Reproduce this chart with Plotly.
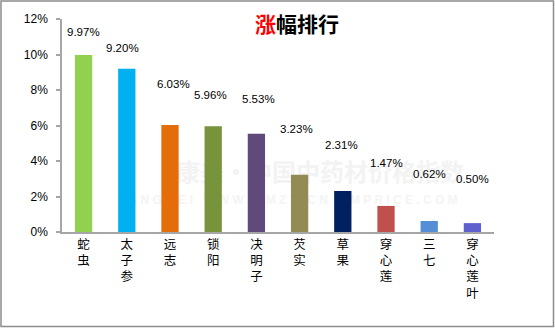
import plotly.graph_objects as go

categories = ["蛇虫", "太子参", "远志", "锁阳", "决明子", "芡实", "草果", "穿心莲", "三七", "穿心莲叶"]
values = [9.97, 9.20, 6.03, 5.96, 5.53, 3.23, 2.31, 1.47, 0.62, 0.50]
labels = ["9.97%", "9.20%", "6.03%", "5.96%", "5.53%", "3.23%", "2.31%", "1.47%", "0.62%", "0.50%"]
colors = ["#92D050", "#00B0F0", "#E46C0A", "#77933C", "#604A7B",
          "#948A54", "#002060", "#C0504D", "#558ED5", "#5F5FD0"]
label_dy = [23, 21, 41, 31, 35, 46, 46, 43, 47, 44]
label_dx = [0, -4, 3, -3, 2, -3, -1, 0, 0, 0]
ytick_vals = [0, 2, 4, 6, 8, 10, 12]
ytick_text = ["0%", "2%", "4%", "6%", "8%", "10%", "12%"]

W, H = 555, 328
ML, MR, MT, MB = 62, 61, 19, 96
PW, PH = W - ML - MR, H - MT - MB

def px_x(p):
    return (p - ML) / PW

def px_y(p):
    return (H - MB - p) / PH

tick_labels = ["<br>".join(list(c)) for c in categories]

fig = go.Figure()
fig.add_trace(go.Bar(
    x=categories, y=values, marker=dict(color=colors, line=dict(width=0)),
    width=0.4, hoverinfo="skip",
))

for c, v, t, dy, dx in zip(categories, values, labels, label_dy, label_dx):
    fig.add_annotation(x=c, y=v, text=t, showarrow=False, yshift=dy, xshift=dx,
                       font=dict(family="Liberation Sans", size=11.5, color="#000000"),
                       yanchor="middle", xanchor="center")

# watermark (behind bars)
fig.add_shape(type="rect", xref="paper", yref="paper",
              x0=px_x(160), x1=px_x(480), y0=px_y(187), y1=px_y(161),
              line=dict(width=0), fillcolor="rgba(0,0,0,0)", layer="below",
              label=dict(text="<b>康美·中国中药材价格指数</b>",
                         font=dict(family="Noto Sans CJK SC", size=24, color="#F3F3F3"),
                         textposition="middle center"))
fig.add_shape(type="rect", xref="paper", yref="paper",
              x0=px_x(95), x1=px_x(480), y0=px_y(206), y1=px_y(192),
              line=dict(width=0), fillcolor="rgba(0,0,0,0)", layer="below",
              label=dict(text="<b>K A N G M E I   W W W . K M Z Y . C N   K M P R I C E . C O M</b>",
                         font=dict(family="Liberation Sans", size=12, color="#F4F4F4"),
                         textposition="middle center"))

# outer border
fig.add_shape(type="rect", xref="paper", yref="paper",
              x0=px_x(1), x1=px_x(553.5), y0=px_y(326.5), y1=px_y(1),
              line=dict(color="#8C8C8C", width=1.5), fillcolor="rgba(0,0,0,0)", layer="above")

fig.update_layout(
    width=W, height=H,
    margin=dict(l=ML, r=MR, t=MT, b=MB),
    paper_bgcolor="white", plot_bgcolor="white",
    showlegend=False,
    title=dict(text="<b><span style='color:#FF0000'>涨</span>幅排行</b>",
               x=297 / W, xanchor="center", xref="container",
               y=1 - 25 / H, yanchor="middle", yref="container",
               font=dict(family="Noto Sans CJK SC", size=21, color="#000000")),
    bargap=0.6,
)
fig.update_xaxes(
    type="category", tickmode="array", tickvals=categories, ticktext=tick_labels,
    tickangle=0, showline=True, linecolor="#A6A6A6", linewidth=1.5,
    ticks="", showgrid=False, zeroline=False,
    tickfont=dict(family="Noto Sans CJK SC", size=12.5, color="#000000"),
    range=[-0.5, 9.5],
)
fig.update_yaxes(
    range=[0, 12], tickmode="array", tickvals=ytick_vals, ticktext=ytick_text,
    showline=True, linecolor="#A6A6A6", linewidth=1.5,
    ticks="outside", ticklen=4, tickcolor="#A6A6A6", tickwidth=1.5,
    showgrid=False, zeroline=False, ticklabelstandoff=6,
    tickfont=dict(family="Liberation Sans", size=12, color="#000000"),
)

fig.write_html("out.html")
